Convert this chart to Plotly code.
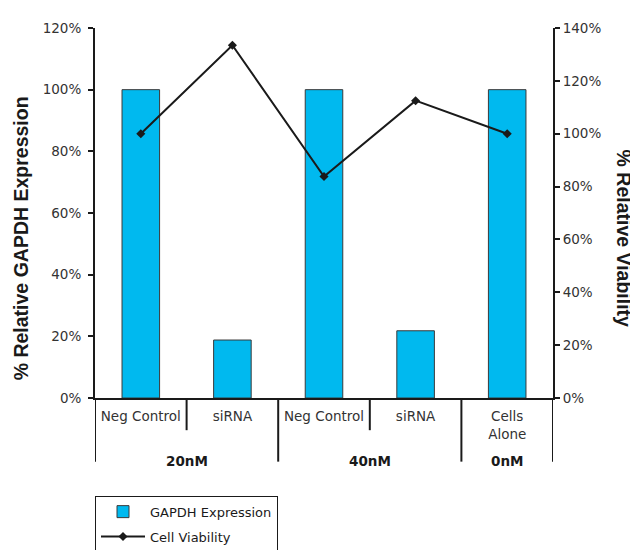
import plotly.graph_objects as go

# ---- data ----
conditions = ["Neg Control", "siRNA", "Neg Control", "siRNA", "Cells<br>Alone"]
groups = ["20nM", "20nM", "40nM", "40nM", "0nM"]
gapdh = [1.00, 0.188, 1.00, 0.218, 1.00]
viability = [1.00, 1.335, 0.838, 1.125, 1.00]
left_ticks = [0, 0.2, 0.4, 0.6, 0.8, 1.0, 1.2]
right_ticks = [0, 0.2, 0.4, 0.6, 0.8, 1.0, 1.2, 1.4]

xpos = list(range(len(conditions)))
FONT = "DejaVu Sans"
TFONT = "Liberation Sans"
TXT = "#333333"

fig = go.Figure()
fig.add_trace(go.Bar(
    x=xpos, y=gapdh, name="GAPDH Expression", width=0.41, legendgroup="a",
    marker=dict(color="#00B9EF", line=dict(color="#3a3a3a", width=1)),
    yaxis="y"))
fig.add_trace(go.Scatter(
    x=xpos, y=viability, name="Cell Viability", mode="lines+markers", legendgroup="b",
    line=dict(color="#1a1a1a", width=2),
    marker=dict(symbol="diamond", size=7, color="#1a1a1a"),
    yaxis="y2"))

# divider lines under the category axis
shapes = []
n = len(conditions)
for b in range(n + 1):
    xb = b - 0.5
    if b == 0 or b == n or groups[b - 1] != groups[b]:
        y1 = -0.172
    else:
        y1 = -0.087
    shapes.append(dict(type="line", xref="x", yref="paper", x0=xb, x1=xb,
                       y0=0, y1=y1, line=dict(color="#1a1a1a", width=2)))

annotations = []
seen = []
for g in groups:
    if g not in seen:
        seen.append(g)
for g in seen:
    idx = [i for i, gg in enumerate(groups) if gg == g]
    annotations.append(dict(x=sum(idx) / len(idx), y=-0.169, xref="x", yref="paper",
                            text="<b>%s</b>" % g, showarrow=False,
                            font=dict(family=FONT, size=13.5, color="#1a1a1a"),
                            xanchor="center", yanchor="middle"))
annotations.append(dict(x=-0.162, y=0.431, xref="paper", yref="paper",
                        text="<b>% Relative GAPDH Expression</b>", textangle=-90,
                        showarrow=False, xanchor="center", yanchor="middle",
                        font=dict(family=TFONT, size=19.5, color="#1a1a1a")))
annotations.append(dict(x=1.155, y=0.431, xref="paper", yref="paper",
                        text="<b>% Relative Viability</b>", textangle=90,
                        showarrow=False, xanchor="center", yanchor="middle",
                        font=dict(family=TFONT, size=19.5, color="#1a1a1a")))

tick_font = dict(family=FONT, size=13.5, color=TXT)

fig.update_layout(
    width=638, height=566,
    margin=dict(l=87, r=93, t=12, b=176),
    paper_bgcolor="white", plot_bgcolor="white",
    font=dict(family=FONT, size=13.5, color=TXT),
    showlegend=True,
    xaxis=dict(range=[-0.5, n - 0.5], tickvals=xpos, ticktext=conditions,
               showline=True, linecolor="#1a1a1a", linewidth=2, ticks="",
               showgrid=False, zeroline=False, ticklabelstandoff=5,
               tickfont=tick_font),
    yaxis=dict(range=[0, 1.2], tickvals=left_ticks, tickformat=".0%",
               showline=True, linecolor="#1a1a1a", linewidth=2,
               ticks="outside", ticklen=5, tickcolor="#1a1a1a", tickwidth=1.5,
               showgrid=False, zeroline=False, ticklabelstandoff=4,
               tickfont=tick_font),
    yaxis2=dict(range=[0, 1.4], tickvals=right_ticks, tickformat=".0%",
                overlaying="y", side="right",
                showline=True, linecolor="#1a1a1a", linewidth=2,
                ticks="outside", ticklen=5, tickcolor="#1a1a1a", tickwidth=1.5,
                showgrid=False, zeroline=False,
                tickfont=tick_font),
    legend=dict(x=0, y=-0.264, xanchor="left", yanchor="top",
                bordercolor="#1a1a1a", borderwidth=1, bgcolor="white",
                font=dict(family=FONT, size=13, color="#1a1a1a"),
                traceorder="grouped", tracegroupgap=5, itemwidth=44),
    shapes=shapes,
    annotations=annotations,
)

fig.write_html("out.html")
